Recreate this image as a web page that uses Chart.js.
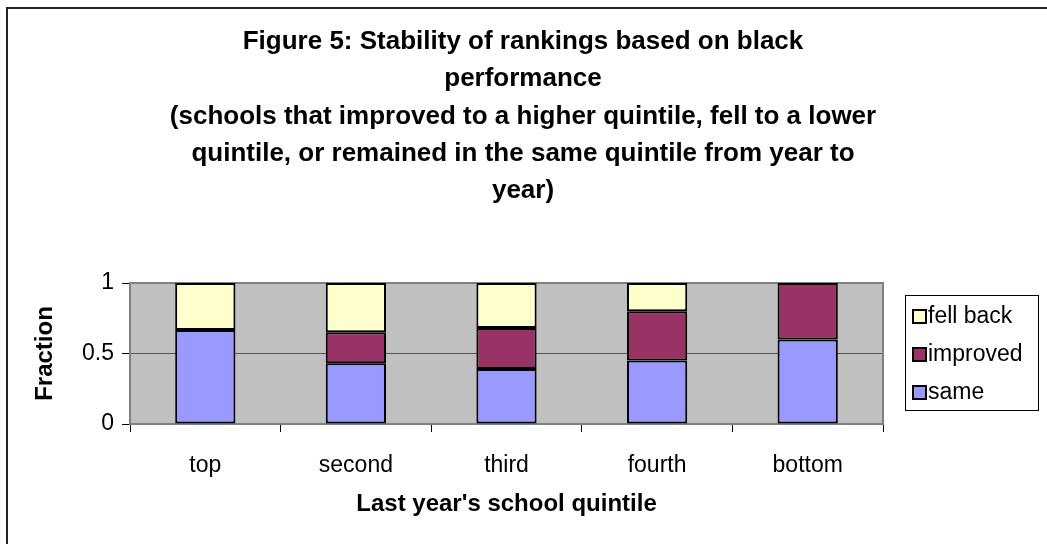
<!DOCTYPE html>
<html>
<head>
<meta charset="utf-8">
<script src="https://cdn.jsdelivr.net/npm/chart.js@4/dist/chart.umd.min.js"></script>
<style>
  html, body { margin: 0; padding: 0; background: #fff; }
  #wrap { width: 1047px; height: 544px; }
</style>
</head>
<body>
<div id="wrap"><canvas id="chart" width="1047" height="544"></canvas></div>
<script>
// Data
var quintiles = ['top', 'second', 'third', 'fourth', 'bottom'];
var same = [0.667, 0.43, 0.39, 0.45, 0.60];
var improved = [0, 0.22, 0.29, 0.35, 0.40];
var fellBack = [0.333, 0.35, 0.32, 0.20, 0];
var yTicks = [0, 0.5, 1];

var titleLines = [
    'Figure 5: Stability of rankings based on black',
    'performance',
    '(schools that improved to a higher quintile, fell to a lower',
    'quintile, or remained in the same quintile from year to',
    'year)'
];

var FONT = 'Arial, "Liberation Sans", sans-serif';

// plot background, border, frame, title and legend
var excelLook = {
    id: 'excelLook',
    beforeDraw: function(chart) {
        var c = chart.ctx, a = chart.chartArea;
        c.save();
        c.fillStyle = '#c0c0c0';
        c.fillRect(a.left, a.top, a.right - a.left, a.bottom - a.top);
        c.restore();
    },
    beforeDatasetsDraw: function(chart) {
        var c = chart.ctx, a = chart.chartArea;
        c.save();
        c.strokeStyle = '#808080';
        c.lineWidth = 2;
        c.strokeRect(a.left, a.top, a.right - a.left, a.bottom - a.top);
        c.restore();
    },
    afterDraw: function(chart) {
        var c = chart.ctx;
        c.save();
        // outer frame
        c.strokeStyle = '#222';
        c.lineWidth = 2;
        c.beginPath();
        c.moveTo(7, 544);
        c.lineTo(7, 8);
        c.lineTo(1047, 8);
        c.stroke();

        // title
        c.fillStyle = '#000';
        c.font = 'bold 26px ' + FONT;
        c.textAlign = 'center';
        c.textBaseline = 'middle';
        for (var t = 0; t < titleLines.length; t++) {
            c.fillText(titleLines[t], 523, 42 + t * 37.3);
        }

        // legend
        c.lineWidth = 1;
        c.strokeStyle = '#000';
        c.strokeRect(905.5, 295.5, 133, 115);
        c.font = '23px ' + FONT;
        c.textAlign = 'left';
        var ds = chart.data.datasets;
        var ys = [316, 354, 392];
        for (var i = 0; i < ds.length; i++) {
            var d = ds[ds.length - 1 - i];
            c.fillStyle = d.backgroundColor;
            c.fillRect(913, ys[i] - 6, 13, 13);
            c.lineWidth = 2;
            c.strokeRect(913, ys[i] - 6, 13, 13);
            c.fillStyle = '#000';
            c.fillText(d.label, 928, ys[i] + 1);
        }
        c.restore();
    }
};

new Chart(document.getElementById('chart'), {
    type: 'bar',
    data: {
        labels: quintiles,
        datasets: [{
            label: 'same',
            data: same,
            backgroundColor: '#9999ff',
            borderColor: '#000',
            borderWidth: 2,
            borderSkipped: false
        }, {
            label: 'improved',
            data: improved,
            backgroundColor: '#993366',
            borderColor: '#000',
            borderWidth: 2,
            borderSkipped: false
        }, {
            label: 'fell back',
            data: fellBack,
            backgroundColor: '#ffffcc',
            borderColor: '#000',
            borderWidth: 2,
            borderSkipped: false
        }]
    },
    options: {
        responsive: false,
        animation: false,
        layout: { padding: { left: 0, right: 164, top: 283, bottom: 0 } },
        datasets: { bar: { categoryPercentage: 1, barPercentage: 0.4 } },
        plugins: {
            legend: { display: false },
            tooltip: { enabled: false },
            title: { display: false }
        },
        scales: {
            x: {
                stacked: true,
                afterFit: function(s) { s.height = 120; },
                grid: { offset: true, drawOnChartArea: false, drawTicks: true, tickLength: 8, color: '#000', lineWidth: 1 },
                border: { display: true, color: '#000', width: 1 },
                ticks: { color: '#000', padding: 20, font: { family: FONT, size: 23 } },
                title: {
                    display: true,
                    text: "Last year's school quintile",
                    color: '#000',
                    font: { family: FONT, size: 24, weight: 'bold' },
                    padding: { top: 4, bottom: 25 }
                }
            },
            y: {
                stacked: true,
                min: 0,
                max: 1,
                afterFit: function(s) { s.width = 130; },
                afterBuildTicks: function(s) { s.ticks = yTicks.map(function(v) { return { value: v }; }); },
                grid: { color: '#555', lineWidth: 1, tickLength: 8, tickColor: '#000' },
                border: { display: true, color: '#000', width: 1 },
                ticks: {
                    color: '#000',
                    padding: 8,
                    font: { family: FONT, size: 23 },
                    callback: function(v) { return v; }
                },
                title: {
                    display: true,
                    text: 'Fraction',
                    color: '#000',
                    font: { family: FONT, size: 24, weight: 'bold' },
                    padding: { top: 31, bottom: 4 }
                }
            }
        }
    },
    plugins: [excelLook]
});
</script>
</body>
</html>
